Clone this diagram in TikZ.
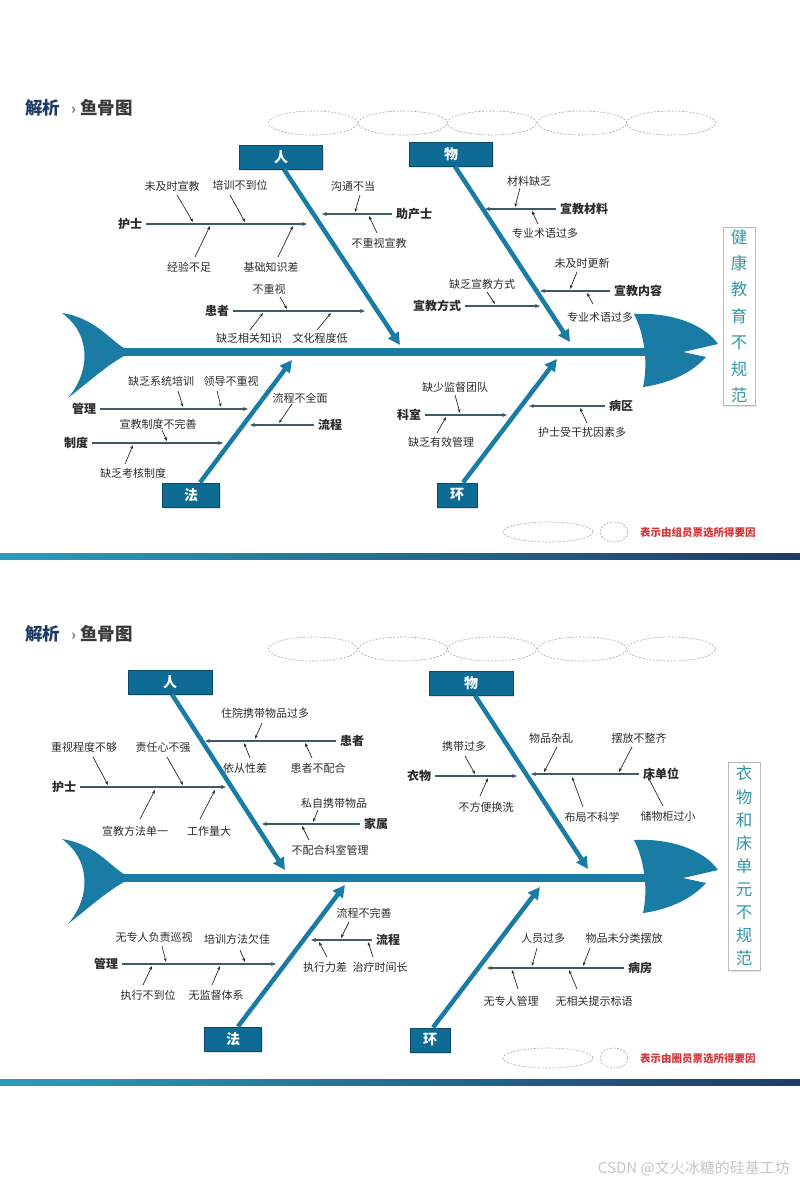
\documentclass[tikz,border=0pt]{standalone}
\usepackage{fontspec}
\setmainfont{Noto Sans CJK SC}
\usetikzlibrary{arrows.meta,shadows}
\definecolor{fishblue}{HTML}{1A7CA5}
\definecolor{boxfill}{HTML}{0E6B93}
\definecolor{boxline}{HTML}{0B4A68}
\definecolor{twig}{HTML}{3E5B68}
\definecolor{ink}{HTML}{2B2B2B}
\definecolor{navy}{HTML}{1F3A66}
\definecolor{titlegray}{HTML}{3A3A3A}
\definecolor{tealtxt}{HTML}{3597A5}
\definecolor{ovalgray}{HTML}{A8A8A8}
\definecolor{votered}{HTML}{D2363A}
\definecolor{barL}{HTML}{2B9DBB}
\definecolor{barM}{HTML}{4FB3CC}
\definecolor{barR}{HTML}{1D3B6A}
\tikzset{
  cat/.style={font=\bfseries\fontsize{12}{14}\selectfont, text=ink, inner sep=1pt},
  cause/.style={font=\fontsize{11}{13}\selectfont, text=ink, inner sep=0.5pt},
  headbox/.style={fill=boxfill, draw=boxline, line width=1pt, text=white, minimum height=24pt,
                  inner sep=0pt, font=\bfseries\fontsize{14}{16}\selectfont,
                  drop shadow={shadow xshift=1pt, shadow yshift=-2pt, opacity=0.25}},
  effect/.style={draw=gray!55, fill=white, text=tealtxt, align=center, minimum width=32pt, inner sep=0pt,
                 font=\fontsize{16.5}{#1}\selectfont,
                 drop shadow={shadow xshift=1pt, shadow yshift=-1.5pt, opacity=0.2}},
  bone/.style={draw=fishblue, line width=4.5pt, -{Triangle[length=12pt,width=12pt]}},
  branch/.style={draw=twig, line width=1.1pt, shorten <=3pt, -{Stealth[length=5pt,width=4pt]}},
  twigarrow/.style={draw=ink, line width=0.7pt, -{Stealth[length=4pt,width=3pt]}},
  oval/.style={draw=ovalgray, dash pattern=on 2pt off 1.5pt, line width=0.6pt},
}
% cause text with its small arrow onto the branch
\newcommand{\why}[5]{%
  \node[cause] (#1) at (#2) {#3};
  \coordinate (#1-a) at (#4); \coordinate (#1-b) at (#5);
  \draw[twigarrow] (#1-a) -- (#1-b);}

\begin{document}
\begin{tikzpicture}[x=1pt,y=-1pt]
  \useasboundingbox (0,0) rectangle (800,1187);
  % common frame of both slides
  \foreach \dy/\p/\who in {0/1/组员,526/2/圈员}{
    \begin{scope}[shift={(0,\dy)}]
      \node[anchor=west, inner sep=0, font=\bfseries\fontsize{17.5}{20}\selectfont] (ttl\p) at (25,108)
        {\textcolor{navy}{解析}\hspace{11pt}{\color{gray}\fontsize{15}{17}\selectfont ›}\hspace{4pt}\textcolor{titlegray}{鱼骨图}};
      \foreach \cx in {313,403,492,582,671}
        \draw[oval] (\cx,123) ellipse (44.5pt and 12pt);
      % tail, spine, head
      \fill[fishblue] (62,313) .. controls (95,318) and (110,340) .. (124,348) -- (124,356)
        .. controls (106,366) and (86,384) .. (68,398) .. controls (90,372) and (92,335) .. (62,313) -- cycle;
      \draw[fishblue, line width=8pt] (118,352) -- (646,352);
      \fill[fishblue] (634,314) .. controls (672,312) and (705,325) .. (718,344) -- (683,352) -- (706,357)
        .. controls (690,375) and (665,384) .. (643,387) .. controls (648,365) and (645,335) .. (634,314) -- cycle;
      % legend and bar
      \draw[oval] (548,532) ellipse (45pt and 10pt);
      \draw[oval] (614,532) ellipse (14pt and 10pt);
      \node[anchor=west, inner sep=0, text=votered, font=\bfseries\fontsize{10.5}{12}\selectfont] (key\p) at (640,533) {表示由\who 票选所得要因};
      \shade[left color=barL, middle color=barM, right color=barR] (0,553) rectangle (800,559);
    \end{scope}}

  % Slide 1: 健康教育不规范
  \node[headbox, minimum width=83pt] (ren1) at (281,157) {人};
  \node[headbox, minimum width=83pt] (wu1) at (451,154) {物};
  \node[headbox, minimum width=57pt] (fa1) at (191,495) {法};
  \node[headbox, minimum width=40pt] (huan1) at (457,495) {环};
  \node[effect=26.4pt, minimum height=178pt] (eff1) at (739,316) {健\\康\\教\\育\\不\\规\\范};
  \coordinate (ren1t) at (400,345); \coordinate (wu1t) at (570,342);
  \coordinate (fa1t) at (292,360); \coordinate (huan1t) at (557,359);
  \draw[bone] ([xshift=3pt]ren1.south) -- (ren1t);
  \draw[bone] ([xshift=4pt]wu1.south) -- (wu1t);
  \draw[bone] ([xshift=9pt]fa1.north) -- (fa1t);
  \draw[bone] ([xshift=6pt]huan1.north) -- (huan1t);
  % branches
  \node[cat] (hs1) at (130,224) {护士};   \coordinate (hs1e) at (307,224);
  \node[cat] (zc1) at (414,214) {助产士}; \coordinate (zc1e) at (322,214);
  \node[cat] (hz1) at (217,311) {患者};   \coordinate (hz1e) at (365,311);
  \node[cat] (xc1) at (584,209) {宣教材料}; \coordinate (xc1e) at (485,209);
  \node[cat] (xn1) at (638,291) {宣教内容}; \coordinate (xn1e) at (540,291);
  \node[cat] (xf1) at (437,306) {宣教方式}; \coordinate (xf1e) at (540,306);
  \node[cat] (gl1) at (84,409) {管理};    \coordinate (gl1e) at (248,409);
  \node[cat] (zd1) at (76,443) {制度};    \coordinate (zd1e) at (223,443);
  \node[cat] (lc1) at (330,425) {流程};   \coordinate (lc1e) at (250,425);
  \node[cat] (ks1) at (409,415) {科室};   \coordinate (ks1e) at (507,415);
  \node[cat] (bq1) at (621,406) {病区};   \coordinate (bq1e) at (529,406);
  \foreach \b in {hs1,zc1,hz1,xc1,xn1,xf1,gl1,zd1,lc1,ks1,bq1}
    \draw[branch] (\b) -- (\b e);
  % causes
  \why{c1a}{172,186}{未及时宣教}{177,195}{193,222}
  \why{c1b}{240,185}{培训不到位}{230,195}{245,222}
  \why{c1c}{189,267}{经验不足}{195,257}{210,226}
  \why{c1d}{271,267}{基础知识差}{278,257}{293,226}
  \why{c1e}{353,186}{沟通不当}{360,195}{355,212}
  \why{c1f}{379,243}{不重视宣教}{377,233}{369,216}
  \why{c1g}{269,289}{不重视}{280,297}{287,309}
  \why{c1h}{249,338}{缺乏相关知识}{250,330}{263,313}
  \why{c1i}{320,338}{文化程度低}{317,330}{331,313}
  \why{c1j}{529,181}{材料缺乏}{520,188}{515,207}
  \why{c1k}{545,233}{专业术语过多}{538,224}{532,211}
  \why{c1l}{582,263}{未及时更新}{577,272}{570,289}
  \why{c1m}{600,317}{专业术语过多}{593,304}{587,293}
  \why{c1n}{482,284}{缺乏宣教方式}{487,292}{495,304}
  \why{c1o}{161,381}{缺乏系统培训}{178,391}{183,407}
  \why{c1p}{231,381}{领导不重视}{217,391}{221,407}
  \why{c1q}{158,424}{宣教制度不完善}{162,430}{167,441}
  \why{c1r}{133,473}{缺乏考核制度}{125,464}{133,445}
  \why{c1s}{300,398}{流程不全面}{292,404}{279,423}
  \why{c1t}{455,387}{缺少监督团队}{455,395}{460,413}
  \why{c1u}{441,442}{缺乏有效管理}{437,433}{446,417}
  \why{c1v}{582,432}{护士受干扰因素多}{587,423}{580,408}

  % Slide 2: 衣物和床单元不规范
  \node[headbox, minimum width=84pt] (ren2) at (170,682) {人};
  \node[headbox, minimum width=84pt] (wu2) at (471,683) {物};
  \node[headbox, minimum width=57pt] (fa2) at (233,1039) {法};
  \node[headbox, minimum width=40pt] (huan2) at (430,1040) {环};
  \node[effect=23.1pt, minimum height=208pt] (eff2) at (744,866) {衣\\物\\和\\床\\单\\元\\不\\规\\范};
  \coordinate (ren2t) at (285,870); \coordinate (wu2t) at (588,869);
  \coordinate (fa2t) at (345,885); \coordinate (huan2t) at (540,887);
  \draw[bone] ([xshift=2pt]ren2.south) -- (ren2t);
  \draw[bone] ([xshift=4pt]wu2.south) -- (wu2t);
  \draw[bone] ([xshift=5pt]fa2.north) -- (fa2t);
  \draw[bone] ([xshift=3pt]huan2.north) -- (huan2t);
  % branches
  \node[cat] (hs2) at (64,787) {护士};   \coordinate (hs2e) at (226,787);
  \node[cat] (hz2) at (352,741) {患者};  \coordinate (hz2e) at (205,741);
  \node[cat] (js2) at (376,824) {家属};  \coordinate (js2e) at (262,824);
  \node[cat] (yw2) at (419,776) {衣物};  \coordinate (yw2e) at (517,776);
  \node[cat] (cd2) at (661,774) {床单位}; \coordinate (cd2e) at (531,774);
  \node[cat] (gl2) at (106,964) {管理};  \coordinate (gl2e) at (276,964);
  \node[cat] (lc2) at (388,940) {流程};  \coordinate (lc2e) at (311,940);
  \node[cat] (bf2) at (640,968) {病房};  \coordinate (bf2e) at (487,968);
  \foreach \b in {hs2,hz2,js2,yw2,cd2,gl2,lc2,bf2}
    \draw[branch] (\b) -- (\b e);
  % causes
  \why{c2a}{84,747}{重视程度不够}{93,757}{108,785}
  \why{c2b}{163,747}{责任心不强}{167,757}{183,785}
  \why{c2c}{135,831}{宣教方法单一}{140,819}{155,790}
  \why{c2d}{209,831}{工作量大}{200,819}{215,790}
  \why{c2e}{265,713}{住院携带物品过多}{262,723}{255,739}
  \why{c2f}{245,768}{依从性差}{250,758}{244,743}
  \why{c2g}{318,768}{患者不配合}{312,758}{305,743}
  \why{c2h}{334,803}{私自携带物品}{318,810}{313,822}
  \why{c2i}{330,850}{不配合科室管理}{309,840}{302,826}
  \why{c2j}{464,746}{携带过多}{465,756}{475,774}
  \why{c2k}{486,807}{不方便换洗}{480,796}{488,778}
  \why{c2l}{551,738}{物品杂乱}{557,747}{544,772}
  \why{c2m}{639,738}{摆放不整齐}{632,747}{619,772}
  \why{c2n}{592,817}{布局不科学}{583,807}{572,777}
  \why{c2o}{668,816}{储物柜过小}{663,806}{648,777}
  \why{c2p}{154,937}{无专人负责巡视}{162,946}{166,962}
  \why{c2q}{237,939}{培训方法欠佳}{240,950}{245,962}
  \why{c2r}{148,995}{执行不到位}{143,985}{152,966}
  \why{c2s}{216,995}{无监督体系}{212,985}{220,966}
  \why{c2t}{364,913}{流程不完善}{349,922}{341,938}
  \why{c2u}{325,967}{执行力差}{327,957}{319,942}
  \why{c2v}{380,967}{治疗时间长}{373,957}{368,942}
  \why{c2w}{543,938}{人员过多}{537,948}{532,966}
  \why{c2x}{624,938}{物品未分类摆放}{590,948}{583,966}
  \why{c2y}{511,1001}{无专人管理}{518,989}{512,970}
  \why{c2z}{594,1001}{无相关提示标语}{577,989}{569,970}

  \node[anchor=east, inner sep=0, text=gray!45, font=\fontsize{15}{17}\selectfont] (mark) at (790,1168) {CSDN @文火冰糖的硅基工坊};
\end{tikzpicture}
\end{document}
